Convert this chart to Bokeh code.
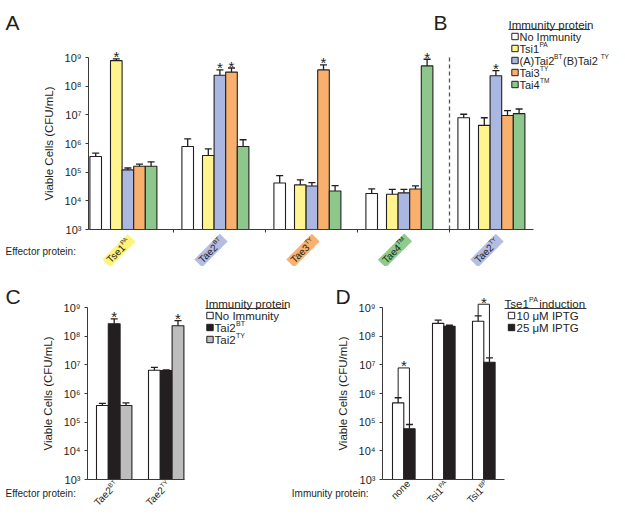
import math
from bokeh.plotting import figure
from bokeh.models import (Range1d, FixedTicker, Label, Arrow, LogAxis,
                          LinearAxis, BoxAnnotation, PolyAnnotation)
from bokeh.layouts import column, row
from bokeh.embed import file_html
from bokeh.resources import INLINE

FONT = "Liberation Sans"
INK = "#231f20"
AXC = "#3a3a3a"

# ---------------- data ----------------
# Panels A/B : effector groups (A: four groups, B: last group)
A_effectors = ["Tse1", "Tae2", "Tae3", "Tae4", "Tae2"]
A_effector_sups = ["PA", "BT", "TY", "TM", "TY"]
A_effector_colors = ["#fff37a", "#b6bde4", "#f8b16e", "#8fcb8c", "#b6bde4"]
A_series_colors = ["#ffffff", "#fff48e", "#a9b7e1", "#f8b06c", "#8dc78b"]
A_legend = [[("No Immunity", False)],
            [("Tsi1", False), ("PA", True)],
            [("(A)Tai2", False), ("BT", True), (" (B)Tai2", False), ("TY", True)],
            [("Tai3", False), ("TY", True)],
            [("Tai4", False), ("TM", True)]]
# mean values (CFU/mL) per immunity series, across the 5 effector groups
A_none = [3.5e5, 7.9e5, 4.2e4, 1.8e4, 7.9e6]
A_tsi1 = [7.8e8, 3.8e5, 3.6e4, 1.7e4, 4.3e6]
A_tai2 = [1.2e5, 2.4e8, 3.3e4, 1.9e4, 2.3e8]
A_tai3 = [1.6e5, 3.1e8, 3.7e8, 2.6e4, 9.5e6]
A_tai4 = [1.6e5, 7.9e5, 2.2e4, 5.1e8, 1.1e7]
# upper end of error bars
A_none_hi = [4.6e5, 1.45e6, 7.6e4, 2.6e4, 1.05e7]
A_tsi1_hi = [8.9e8, 6.5e5, 5.4e4, 2.5e4, 7.9e6]
A_tai2_hi = [1.4e5, 3.7e8, 4.3e4, 2.5e4, 3.5e8]
A_tai3_hi = [1.9e5, 4.3e8, 5.5e8, 3.3e4, 1.4e7]
A_tai4_hi = [2.3e5, 1.35e6, 3.4e4, 8.7e8, 1.6e7]
# significant bars (group index, series index)
A_stars = [(0, 1), (1, 2), (1, 3), (2, 3), (3, 4), (4, 2)]

# Panel C
C_effectors = ["Tae2", "Tae2"]
C_effector_sups = ["BT", "TY"]
C_series_colors = ["#ffffff", "#231f20", "#bdbdbd"]
C_legend = [[("No Immunity", False)], [("Tai2", False), ("BT", True)], [("Tai2", False), ("TY", True)]]
C_none = [3.8e5, 6.5e6]
C_tai2bt = [2.7e8, 6.3e6]
C_tai2ty = [3.8e5, 2.3e8]
C_none_hi = [4.5e5, 8.1e6]
C_tai2bt_hi = [4.0e8, 6.6e6]
C_tai2ty_hi = [4.7e5, 3.5e8]
C_stars = [(0, 1), (1, 2)]

# Panel D
D_immunity = ["none", "Tsi1", "Tsi1"]
D_immunity_sups = ["", "PA", "BP"]
D_series_colors = ["#ffffff", "#231f20"]
D_legend = [[("10 \u03bcM IPTG", False)], [("25 \u03bcM IPTG", False)]]
D_iptg10 = [4.7e5, 2.8e8, 3.3e8]
D_iptg25 = [5.9e4, 2.2e8, 1.23e7]
D_iptg10_hi = [7.1e5, 3.6e8, 5.1e8]
D_iptg25_hi = [8.3e4, 2.4e8, 1.74e7]
D_brackets = [0, 2]            # groups compared
D_bracket_level = [7.8e6, 1.3e9]

Y_TICKS = [1e3, 1e4, 1e5, 1e6, 1e7, 1e8, 1e9]
SUPD = {3: "\u00b3", 4: "\u2074", 5: "\u2075", 6: "\u2076", 7: "\u2077", 8: "\u2078", 9: "\u2079"}

# ---------------- helpers ----------------
CW = {' ': 278, '(': 333, ')': 333, '*': 389, '/': 278, ':': 278,
      'A': 667, 'B': 667, 'C': 722, 'E': 667, 'F': 611, 'G': 778, 'I': 278, 'L': 556,
      'M': 833, 'N': 722, 'P': 667, 'T': 611, 'U': 722, 'Y': 667,
      'a': 556, 'b': 556, 'c': 500, 'd': 556, 'e': 556, 'f': 278, 'i': 222, 'l': 222,
      'm': 833, 'n': 556, 'o': 556, 'p': 556, 'r': 333, 's': 500, 't': 278, 'u': 556,
      'y': 500, '\u03bc': 576}
WF = 0.96    # rendered width of normal text relative to the table
WFS = 1.08   # rendered width of small superscript text


def tw(s, size, sup=False):
    return sum(CW.get(ch, 556) for ch in s) / 1000.0 * size * (WFS if sup else WF)


PXD = 172.0 / 6.0   # pixels per decade on every log axis


class Panel:
    """A canvas whose plotting frame fills it; x data == reference pixels."""

    def __init__(self, x0, x1, y0, y1, ax_bottom):
        self.ax_bottom = ax_bottom          # reference y of 10^3
        self.p = figure(width=x1 - x0, height=y1 - y0, x_range=Range1d(x0, x1),
                        y_range=Range1d(self.Y(y1), self.Y(y0)), y_axis_type="log",
                        x_axis_location=None, y_axis_location=None,
                        output_backend="svg", toolbar_location=None,
                        min_border=0, min_border_left=0, min_border_right=0,
                        min_border_top=0, min_border_bottom=0)
        p = self.p
        p.outline_line_color = None
        p.grid.visible = False
        p.background_fill_color = "white"
        p.border_fill_color = "white"

    def Y(self, ref_y):
        return 10 ** (3 + (self.ax_bottom - ref_y) / PXD)

    def axes(self, xleft, xright, minor=None):
        p = self.p
        ya = LogAxis(fixed_location=xleft, bounds=(1e3, 1e9),
                     ticker=FixedTicker(ticks=Y_TICKS, minor_ticks=[]))
        ya.major_label_overrides = {t: "10" + SUPD[int(round(math.log10(t)))] for t in Y_TICKS}
        ya.major_label_text_font = FONT
        ya.major_label_text_font_size = "11px"
        ya.major_label_text_color = INK
        ya.major_tick_in = 0
        ya.major_tick_out = 3
        ya.minor_tick_line_color = None
        ya.axis_line_color = AXC
        ya.major_tick_line_color = AXC
        ya.axis_label = "Viable Cells (CFU/mL)"
        ya.axis_label_text_font = FONT
        ya.axis_label_text_font_style = "normal"
        ya.axis_label_text_font_size = "11.5px"
        ya.axis_label_text_color = INK
        ya.axis_label_standoff = 7
        ya.major_label_standoff = 4
        p.add_layout(ya, "left")
        xa = LinearAxis(fixed_location=1e3, bounds=(xleft, xright),
                        ticker=FixedTicker(ticks=[], minor_ticks=minor or []))
        xa.axis_line_color = AXC
        xa.major_tick_line_color = None
        xa.minor_tick_line_color = AXC
        xa.minor_tick_in = 0
        xa.minor_tick_out = 3
        p.add_layout(xa, "below")

    def text(self, x, ry, t, size, align="left", baseline="middle"):
        self.p.add_layout(Label(x=x, y=self.Y(ry), text=t, text_font=FONT,
                                text_font_size=f"{size}px", text_align=align,
                                text_baseline=baseline, text_color=INK))

    def star(self, x, yv, dy=2):
        self.p.add_layout(Label(x=x, y=yv, y_offset=dy, text="*", text_font=FONT,
                                text_font_size="15px", text_align="center",
                                text_baseline="alphabetic", text_color=INK))

    def rich(self, x, ry, segs, size, angle=0.0, align="left", sup_size=None):
        if sup_size is None:
            sup_size = round(size * 0.6, 1)
        total = sum(tw(t, sup_size if s else size, s) for t, s in segs)
        pos = {"left": 0.0, "center": -total / 2, "right": -total}[align]
        ca, sa = math.cos(angle), math.sin(angle)
        for t, s in segs:
            fs = sup_size if s else size
            rise = size * 0.33 if s else 0.0
            ox = pos * ca - rise * sa
            oy = pos * sa + rise * ca
            self.p.add_layout(Label(x=x, y=self.Y(ry), x_offset=ox, y_offset=oy, text=t,
                                    angle=angle, text_align="left", text_baseline="middle",
                                    text_font=FONT, text_font_size=f"{fs}px",
                                    text_color=INK))
            pos += tw(t, fs, s)
        return total

    def tag_box(self, cx, cy, length, thick, angle, color):
        ca, sa = math.cos(angle), math.sin(angle)
        xs, ys = [], []
        for a, b in [(-1, -1), (1, -1), (1, 1), (-1, 1)]:
            px = a * length / 2 * ca - b * thick / 2 * sa
            py = a * length / 2 * sa + b * thick / 2 * ca
            xs.append(cx + px)
            ys.append(self.Y(cy - py))
        self.p.add_layout(PolyAnnotation(xs=xs, ys=ys, fill_color=color, fill_alpha=1.0,
                                         line_color=None))

    def square(self, cx, cy, color, half=3.2):
        self.p.add_layout(BoxAnnotation(left=cx - half, right=cx + half,
                                        bottom=self.Y(cy + half), top=self.Y(cy - half),
                                        fill_color=color, fill_alpha=1.0,
                                        line_color=INK, line_width=1, line_alpha=1.0))

    def seg(self, x0, y0, x1, y1, width=1.0):
        self.p.add_layout(Arrow(end=None, x_start=x0, y_start=y0, x_end=x1, y_end=y1,
                                line_color=INK, line_width=width))

    def bars(self, centers, tops, his, color, width):
        p = self.p
        p.vbar(x=centers, width=width, bottom=1e3, top=tops, fill_color=color,
               line_color=INK, line_width=1.1)
        p.segment(x0=centers, y0=tops, x1=centers, y1=his, line_color=INK, line_width=1.3)
        p.segment(x0=[c - 3.5 for c in centers], y0=his, x1=[c + 3.5 for c in centers],
                  y1=his, line_color=INK, line_width=1.3)

    def legend(self, x, ty, title_segs, rows, colors, sq_dx, txt_dx, size=12, rsize=12,
               sup=7):
        wt = self.rich(x, ty, title_segs, size, sup_size=7)
        self.seg(x, self.Y(ty + 5), x + wt, self.Y(ty + 5), 0.9)
        for i, segs in enumerate(rows):
            ry = ty + 12 + 12 * i
            self.square(x + sq_dx, ry, colors[i])
            self.rich(x + txt_dx, ry, segs, rsize, sup_size=sup)


ANG = math.pi / 4

# ================= Panel A + B =================
A = Panel(0, 609, 0, 266, 229)
A_vals = [A_none, A_tsi1, A_tai2, A_tai3, A_tai4]
A_his = [A_none_hi, A_tsi1_hi, A_tai2_hi, A_tai3_hi, A_tai4_hi]
A_GAP = 92.0
BW = 11.6
A_starts = [89 + A_GAP * g for g in range(len(A_effectors))]
A_offsets = [6.2] + [21 + BW * j + BW / 2 for j in range(4)]
A_centers = [[s + A_offsets[k] for s in A_starts] for k in range(5)]
bounds = [s - 8 for s in A_starts[1:]]
A.axes(88, 533, bounds)
for k in range(5):
    A.bars(A_centers[k], A_vals[k], A_his[k], A_series_colors[k], BW)
for g, k in A_stars:
    A.star(A_centers[k][g], A_his[k][g])
# dashed separator between panels A and B (axis height only)
A.p.segment(x0=[bounds[-1]], y0=[1e3], x1=[bounds[-1]], y1=[1e9], line_color="#555555",
            line_width=1.3, line_dash="4 3")
A.text(5, 251, "Effector protein:", 10)
for g in range(len(A_effectors)):
    cx = A_starts[g] + 29.5
    segs = [(A_effectors[g], False), (A_effector_sups[g], True)]
    L = tw(A_effectors[g], 10) + tw(A_effector_sups[g], 6, True) + 6
    A.tag_box(cx, 250, L, 11, ANG, A_effector_colors[g])
    A.rich(cx, 250, segs, 10, angle=ANG, align="center", sup_size=6)
A.text(5, 22, "A", 21, baseline="alphabetic")
A.text(433, 22, "B", 21, baseline="alphabetic")
A.legend(508, 24, [("Immunity protein", False)], A_legend, A_series_colors, 6.5, 11,
         size=11.5, rsize=11, sup=6.5)

# ================= Panel C =================
C = Panel(0, 290, 270, 512, 483)
C_vals = [C_none, C_tai2bt, C_tai2ty]
C_his = [C_none_hi, C_tai2bt_hi, C_tai2ty_hi]
CBW = 11.8
C_starts = [96 + 52 * g for g in range(len(C_effectors))]
C_centers = [[s + CBW / 2 + CBW * k for s in C_starts] for k in range(3)]
C.axes(87, 184)
for k in range(3):
    C.bars(C_centers[k], C_vals[k], C_his[k], C_series_colors[k], CBW)
for g, k in C_stars:
    C.star(C_centers[k][g], C_his[k][g])
C.text(5, 497, "Effector protein:", 10)
for g in range(len(C_effectors)):
    ax = C_starts[g] + CBW * 1.5 + 3
    C.rich(ax, 486, [(C_effectors[g], False), (C_effector_sups[g], True)],
           10, angle=ANG, align="right", sup_size=6.2)
C.text(5, 300, "C", 21, baseline="alphabetic")
C.legend(205, 307, [("Immunity protein", False)], C_legend, C_series_colors, 4.5, 9,
         size=11.5, rsize=11.5)

# ================= Panel D =================
D = Panel(290, 609, 270, 512, 483)
D_vals = [D_iptg10, D_iptg25]
D_his = [D_iptg10_hi, D_iptg25_hi]
DBW = 11.3
D_starts = [392 + 40 * g for g in range(len(D_immunity))]
D_centers = [[s + DBW / 2 + DBW * k for s in D_starts] for k in range(2)]
D.axes(382, 504)
for k in range(2):
    D.bars(D_centers[k], D_vals[k], D_his[k], D_series_colors[k], DBW)
for b, g in enumerate(D_brackets):
    x0, x1 = D_centers[0][g], D_centers[1][g]
    yb = D_bracket_level[b]
    D.seg(x0, D_iptg10_hi[g], x0, yb)
    D.seg(x1, D_iptg25_hi[g], x1, yb)
    D.seg(x0, yb, x1, yb)
    D.star((x0 + x1) / 2, yb, dy=2)
D.text(368, 497, "Immunity protein:", 10, align="right")
for g in range(len(D_immunity)):
    ax = D_starts[g] + DBW + 4
    segs = [(D_immunity[g], False)]
    if D_immunity_sups[g]:
        segs.append((D_immunity_sups[g], True))
    D.rich(ax, 486, segs, 10, angle=ANG, align="right", sup_size=6.2)
D.text(335, 300, "D", 21, baseline="alphabetic")
D.legend(504, 307, [("Tse1", False), ("PA", True), (" induction", False)], D_legend,
         D_series_colors, 7, 12, size=11.5, rsize=11.5)

layout = column(A.p, row(C.p, D.p, spacing=0), spacing=0)
open("out.html", "w").write(file_html(layout, INLINE))
